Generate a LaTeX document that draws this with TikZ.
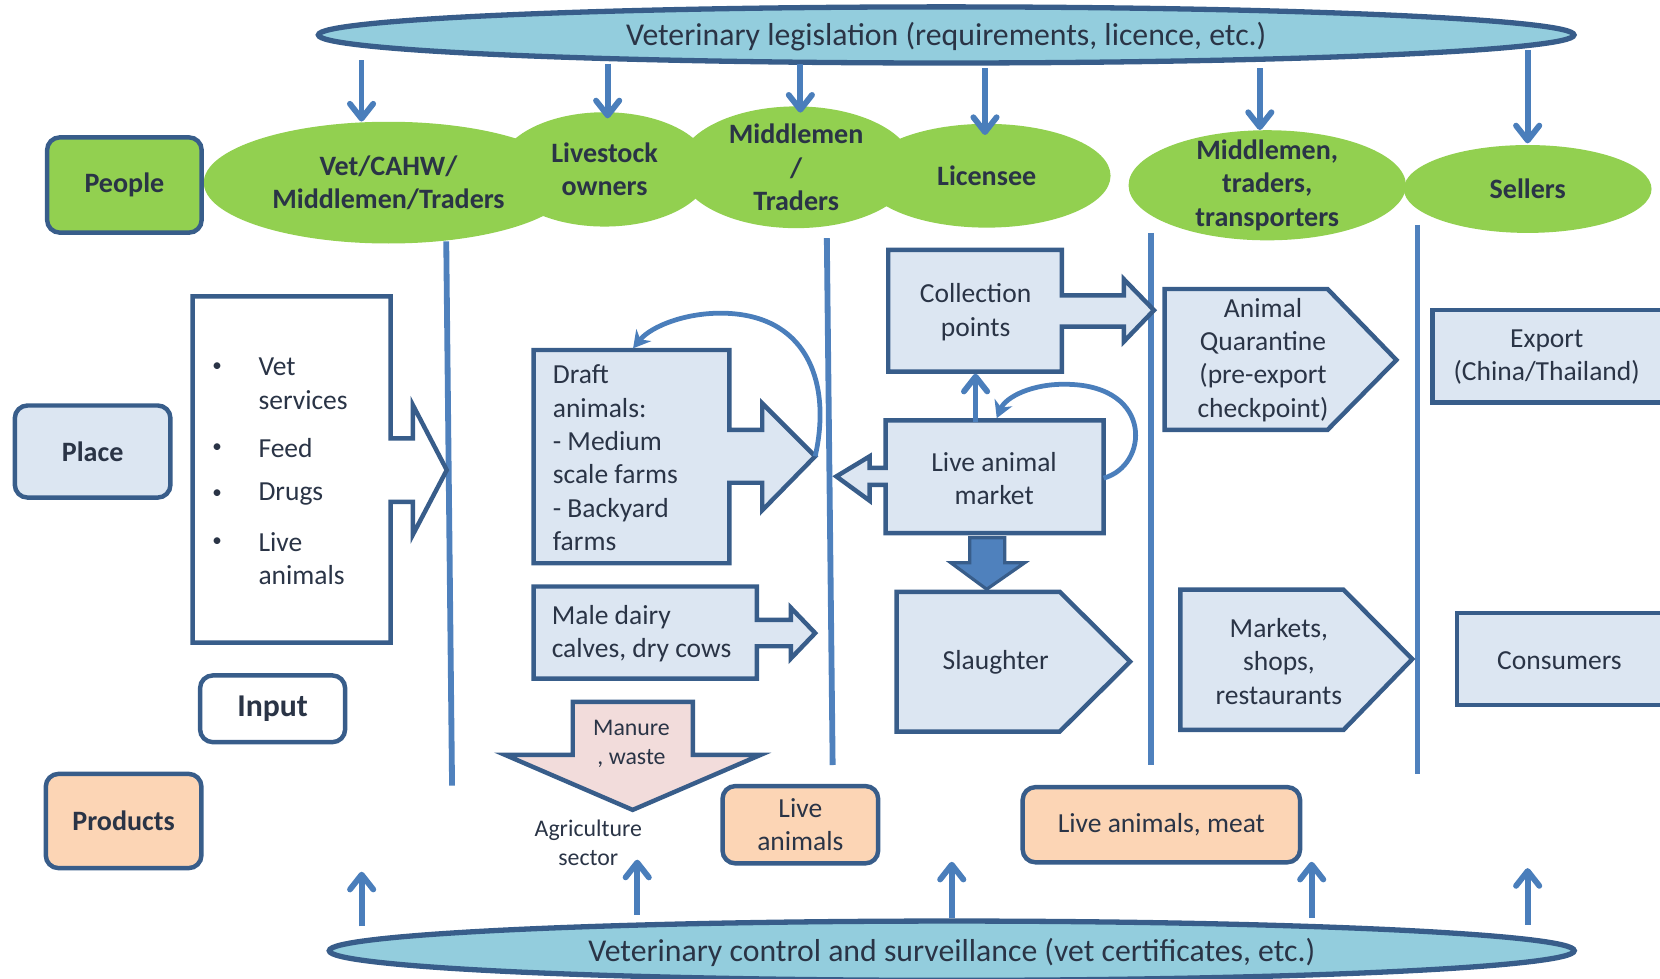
\documentclass[tikz,border=0pt]{standalone}
\usepackage{fontspec}
\setmainfont{Carlito}
\usetikzlibrary{arrows.meta,shapes.geometric}

\definecolor{edgeblue}{HTML}{385D8A}
\definecolor{flowblue}{HTML}{4A7EBB}
\definecolor{laneblue}{HTML}{4F81BD}
\definecolor{paleblue}{HTML}{DCE6F2}
\definecolor{leafgreen}{HTML}{92D050}
\definecolor{peach}{HTML}{FCD5B5}
\definecolor{skyblue}{HTML}{93CDDD}
\definecolor{blush}{HTML}{F2DCDB}
\definecolor{ink}{HTML}{2A3446}

\tikzset{
  body/.style={font=\fontsize{26}{31.5}\selectfont, text=ink, align=center, inner sep=0pt},
  bodyb/.style={body, font=\fontsize{26.5}{31.5}\selectfont\bfseries},
  smalltext/.style={body, font=\fontsize{22.5}{27.5}\selectfont},
  bannertext/.style={body, font=\fontsize{30}{36}\selectfont},
  outline/.style={draw=edgeblue, line width=4.2pt, line join=miter, miter limit=10},
  tagbox/.style={outline, rounded corners=12pt, bodyb},
  bubble/.style={ellipse, fill=leafgreen, inner sep=0pt},
  banner/.style={ellipse, fill=skyblue, draw=edgeblue, line width=5pt, inner sep=0pt},
  lane/.style={draw=laneblue, line width=5.5pt},
  arr/.style={draw=flowblue, line width=5.5pt,
    -{Straight Barb[length=14pt,width=22pt,round]}},
  looparr/.style={draw=flowblue, line width=4.5pt, -{Stealth[length=16pt,width=18pt]}},
}

\begin{document}
\begin{tikzpicture}[x=1pt,y=-1pt]
\useasboundingbox (0,0) rectangle (1568,924);
\clip (0,0) rectangle (1568,924);

% ---- legislation and control banners ----
\node[banner, minimum width=1186pt, minimum height=53pt] (leg) at (893.75,33) {};
\node[bannertext] (legt) at (893.75,35) {Veterinary legislation (requirements, licence, etc.)};
\node[banner, minimum width=1176pt, minimum height=56pt] (ctrl) at (899,898) {};
\node[bannertext] (ctrlt) at (899,900) {Veterinary control and surveillance (vet certificates, etc.)};

% ---- people (green bubbles) ----
\node[bubble, minimum width=349pt, minimum height=115pt] (vet) at (367,172.5) {};
\node[bubble, minimum width=200pt, minimum height=108pt] (lsk) at (571,160) {};
\node[bubble, minimum width=222pt, minimum height=115pt] (mid) at (752,158) {};
\node[bubble, minimum width=234pt, minimum height=98pt] (lic) at (932,166) {};
\node[bubble, minimum width=262pt, minimum height=104pt] (trn) at (1197,175) {};
\node[bubble, minimum width=234pt, minimum height=83pt] (sel) at (1443,178.5) {};

\node[bodyb] (vett) at (vet) {Vet/CAHW/\\Middlemen/Traders};
\node[bodyb] (lskt) at (lsk) {Livestock\\owners};
\node[bodyb] (midt) at (mid) {Middlemen\\/\\Traders};
\node[bodyb] (lict) at (lic) {Licensee};
\node[bodyb] (trnt) at (trn) {Middlemen,\\traders,\\transporters};
\node[bodyb] (selt) at (sel) {Sellers};

% ---- row labels ----
\node[tagbox, fill=leafgreen, minimum width=146pt, minimum height=90pt] (people) at (117.5,174.75) {People};
\node[tagbox, fill=paleblue, minimum width=147pt, minimum height=87pt] (place) at (87.5,426.5) {Place};
\node[tagbox, fill=white, minimum width=137pt, minimum height=63pt, font=\fontsize{30}{36}\selectfont\bfseries] (input) at (257.5,669.5) {Input};
\node[tagbox, fill=peach, minimum width=147pt, minimum height=89pt] (products) at (116.75,775.5) {Products};

% ---- lane dividers ----
\draw[lane] (421.5,228) -- (427,742);
\draw[lane] (781,225) -- (786.5,722.6);
\draw[lane] (1087,220) -- (1087,722.6);
\draw[lane] (1339,212.5) -- (1339,731);

% ---- input callout ----
\draw[outline, fill=white] (182,280) -- (369,280) -- (369,414) -- (390,414) -- (390,382.6)
  -- (422,444) -- (390,505) -- (390,474) -- (369,474) -- (369,607) -- (182,607) -- cycle;
\foreach \y in {347,423,467,512} \node[body, font=\fontsize{18}{20}\selectfont] at (205,\y) {\textbullet};
\node[body, anchor=west, align=left] (ivet) at (244,362.5) {Vet\\services};
\node[body, anchor=west] (ifeed) at (244,423) {Feed};
\node[body, anchor=west] (idrug) at (244,467) {Drugs};
\node[body, anchor=west, align=left] (ilive) at (244,527.5) {Live\\animals};

% ---- farms ----
\draw[outline, fill=paleblue] (504,330.6) -- (689,330.6) -- (689,406) -- (720,406) -- (720,381)
  -- (770,431) -- (720,482) -- (720,456) -- (689,456) -- (689,532) -- (504,532) -- cycle;
\node[body, anchor=west, align=left] (draft) at (522,432.5)
  {Draft\\animals:\\- Medium\\scale farms\\- Backyard\\farms};
\coordinate (drafttip) at (770,431);
\coordinate (drafttop) at (598,329);
\draw[looparr] (drafttip) .. controls (785,365) and (765,300) .. (688,296)
  .. controls (650,294) and (615,308) .. (drafttop);

\draw[outline, fill=paleblue] (504,554) -- (715,554) -- (715,585.6) -- (747,585.6) -- (747,574)
  -- (770,598) -- (747,622) -- (747,610.4) -- (715,610.4) -- (715,641) -- (504,641) -- cycle;
\node[body, anchor=west, align=left] (dairy) at (521,598.5) {Male dairy\\calves, dry cows};

\draw[outline, fill=blush] (541,663) -- (654.5,663) -- (654.5,713) -- (718.5,713)
  -- (597.6,765) -- (477,713) -- (541,713) -- cycle;
\node[smalltext] (manure) at (596.5,702.5) {Manure\\, waste};
\node[smalltext] (agri) at (555.7,796) {Agriculture\\sector};

% ---- market chain ----
\draw[outline, fill=paleblue] (839,236) -- (1003,236) -- (1003,279) -- (1061.5,279) -- (1061.5,263.7)
  -- (1090,293) -- (1061.5,322.7) -- (1061.5,308.6) -- (1003,308.6) -- (1003,351) -- (839,351) -- cycle;
\node[body] (collect) at (921.5,295) {Collection\\points};

\draw[outline, fill=paleblue] (836.5,397) -- (1042.5,397) -- (1042.5,503.6) -- (836.5,503.6)
  -- (836.5,458) -- (821.5,458) -- (821.5,473) -- (790,450) -- (821.5,431) -- (821.5,442)
  -- (836.5,442) -- cycle;
\node[body] (market) at (939,452) {Live animal\\market};

\coordinate (mkttop) at (921.5,399);
\coordinate (colbot) at (921.5,353);
\draw[arr] (mkttop) -- (colbot);

\coordinate (mktright) at (1042.5,451.6);
\coordinate (mktloop) at (941.5,395);
\draw[looparr] (mktright) .. controls (1085,440) and (1090,365) .. (1009,363)
  .. controls (975,362) and (950,375) .. (mktloop);

\draw[draw=edgeblue, line width=3pt, fill=laneblue, line join=miter]
  (916,508) -- (949,508) -- (949,531.5) -- (968,531.5) -- (932,556.6) -- (898,531.5) -- (916,531.5) -- cycle;

\draw[outline, fill=paleblue] (847,559) -- (1001,559) -- (1067.5,625) -- (1001,691) -- (847,691) -- cycle;
\node[body] (slaughter) at (940.5,626) {Slaughter};

\draw[outline, fill=paleblue] (1100,273) -- (1254,273) -- (1319,340) -- (1254,406) -- (1100,406) -- cycle;
\node[body] (quar) at (1193,340) {Animal\\Quarantine\\(pre-export\\checkpoint)};

\draw[outline, fill=paleblue] (1115,557) -- (1269,557) -- (1334,622.5) -- (1269,689.5) -- (1115,689.5) -- cycle;
\node[body] (shops) at (1208,624.75) {Markets,\\shops,\\restaurants};

\draw[outline, fill=paleblue] (1353,293) rectangle (1600,380);
\node[body] (export) at (1461,337.5) {Export\\(China/Thailand)};
\draw[outline, fill=paleblue] (1376,579) rectangle (1600,666);
\node[body] (consumers) at (1473,624) {Consumers};

% ---- products ----
\node[outline, rounded corners=12pt, fill=peach, body, minimum width=147pt, minimum height=73pt] (liveprod) at (756,779) {Live\\animals};
\node[outline, rounded corners=12pt, fill=peach, body, minimum width=262pt, minimum height=71pt] (meat) at (1097,779) {Live animals, meat};

% ---- legislation arrows ----
\coordinate (l1) at (341.5,57);  \draw[arr] (l1) -- (l1 |- vet.north);
\coordinate (l2) at (574,60);    \draw[arr] (l2) -- (574,111.8);
\coordinate (l3) at (756,60);    \draw[arr] (l3) -- (756,106.4);
\coordinate (l4) at (930.4,64.5);\draw[arr] (l4) -- (930.4,127.5);
\coordinate (l5) at (1190,64.5); \draw[arr] (l5) -- (1190,122.8);
\coordinate (l6) at (1443,47.2); \draw[arr] (l6) -- (1443,135.4);

% ---- control arrows ----
\coordinate (c1) at (341.6,875);  \draw[arr] (c1) -- (341.6,823.4);
\coordinate (c2) at (601.9,864);  \draw[arr] (c2) -- (601.9,812);
\coordinate (c3) at (899,866.8);  \draw[arr] (c3) -- (899,814);
\coordinate (c4) at (1239,866.8); \draw[arr] (c4) -- (1239,814);
\coordinate (c5) at (1443,873.7); \draw[arr] (c5) -- (1443,820);

\end{tikzpicture}
\end{document}
